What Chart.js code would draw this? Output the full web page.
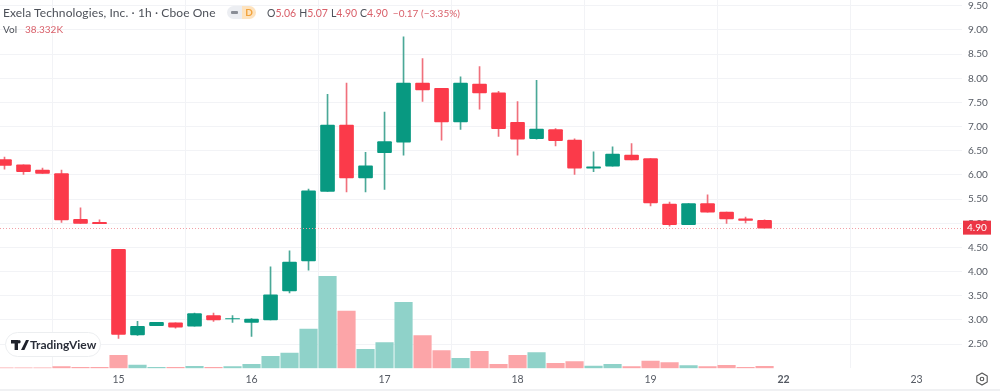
<!DOCTYPE html>
<html>
<head>
<meta charset="utf-8">
<title>Exela Technologies 1h</title>
<script src="https://cdn.jsdelivr.net/npm/chart.js@4"></script>
<style>
    html, body { margin: 0; padding: 0; background: #fff; }
    #wrap { position: relative; width: 1000px; height: 391px; overflow: hidden; font-family: Lato, sans-serif; }
    #chart { position: absolute; left: 0; top: 0; }
    .txt { position: absolute; white-space: nowrap; color: #4d5159; }
    .red { color: #d9606a; }
    #title { left: 3px; top: 4px; font-size: 12px; letter-spacing: 0.1px; line-height: 17px; }
    #ohlc { left: 267px; top: 5px; font-size: 10.5px; line-height: 16px; }
    #ohlc > span { margin-right: 3px; }
    #ohlc > span:last-child { font-size: 10px; margin-left: 2px; }
    #vol { left: 3px; top: 22px; font-size: 10px; line-height: 15px; }
    #vol .red { margin-left: 8px; }
    #pillL { position: absolute; left: 227px; top: 6px; width: 15px; height: 13px; background: #eceef2; border-radius: 7px 0 0 7px; }
    #pillL i { position: absolute; left: 4px; top: 5px; width: 7px; height: 3px; background: #8a8e96; border-radius: 1px; }
    #pillR { position: absolute; left: 242px; top: 6px; width: 14px; height: 13px; background: #fde3bf; border-radius: 0 7px 7px 0; color: #f2a33c; font-size: 10px; font-weight: 700; line-height: 13px; text-align: center; }
    #logo { position: absolute; left: 5px; top: 332px; width: 96px; height: 25px; background: #fff; border: 1px solid #eceef0; border-radius: 13px; box-sizing: border-box; }
    #logo svg { position: absolute; left: 5px; top: 7px; }
    #logo b { position: absolute; left: 24px; top: 3px; font-size: 12px; line-height: 17px; font-weight: 700; color: #2a2e39; }
    #gear { position: absolute; left: 975px; top: 372px; }
    #bottomLine { position: absolute; left: 0; top: 389px; width: 1000px; height: 2px; background: #f0f1f3; }
</style>
</head>
<body>
<div id="wrap">
    <canvas id="chart" width="1000" height="391"></canvas>
    <div class="txt" id="title">Exela Technologies, Inc. · 1h · Cboe One</div>
    <div id="pillL"><i></i></div>
    <div id="pillR">D</div>
    <div class="txt" id="ohlc"><span>O<span class="red">5.06</span></span><span>H<span class="red">5.07</span></span><span>L<span class="red">4.90</span></span><span>C<span class="red">4.90</span></span><span class="red">−0.17 (−3.35%)</span></div>
    <div class="txt" id="vol">Vol<span class="red">38.332K</span></div>
    <div id="logo">
        <svg width="18" height="10" viewBox="0 0 18 10"><path d="M0 0h7v10H3.6V3.4H0zM15 0h3l-4.6 10H10zM8 0a1.7 1.7 0 1 1 0 3.4A1.7 1.7 0 0 1 8 0z" fill="#1f222b"/></svg>
        <b>TradingView</b>
    </div>
    <svg id="gear" width="14" height="14" viewBox="0 0 14 14"><path d="M7 1l5.2 3v6L7 13l-5.2-3V4z" fill="none" stroke="#555" stroke-width="1.1" stroke-linejoin="round"/><circle cx="7" cy="7" r="1.8" fill="none" stroke="#555" stroke-width="1.1"/></svg>
    <div id="bottomLine"></div>
</div>
<script>
// --- Data ---
const opens = [6.32, 6.21, 6.10, 6.03, 5.08, 5.02, 4.46, 2.69, 2.88, 2.94, 2.87, 3.09, 3.02, 2.95, 3.00, 3.60, 4.22, 5.66, 7.03, 5.94, 6.46, 6.68, 7.90, 7.79, 7.10, 7.88, 7.70, 7.09, 6.75, 6.94, 6.72, 6.14, 6.18, 6.41, 6.34, 5.40, 4.97, 5.41, 5.23, 5.09, 5.06];
const highs = [6.37, 6.21, 6.14, 6.10, 5.32, 5.07, 4.46, 2.97, 2.95, 2.94, 3.14, 3.14, 3.09, 3.03, 4.10, 4.43, 5.71, 7.67, 7.90, 6.47, 7.30, 8.86, 8.41, 7.79, 8.03, 8.24, 7.73, 7.52, 7.96, 6.96, 6.75, 6.48, 6.58, 6.65, 6.34, 5.44, 5.41, 5.59, 5.23, 5.13, 5.07];
const lows = [6.12, 6.01, 6.03, 5.02, 5.00, 4.99, 2.62, 2.68, 2.88, 2.83, 2.87, 2.97, 2.95, 2.66, 3.00, 3.56, 4.03, 5.66, 5.65, 5.65, 5.70, 6.41, 7.52, 6.72, 6.94, 7.36, 6.80, 6.41, 6.74, 6.60, 6.01, 6.07, 6.18, 6.31, 5.36, 4.94, 4.97, 5.23, 5.00, 5.01, 4.90];
const closes = [6.20, 6.07, 6.03, 5.07, 5.00, 4.99, 2.70, 2.87, 2.95, 2.85, 3.13, 3.00, 3.03, 3.02, 3.52, 4.20, 5.67, 7.03, 5.94, 6.19, 6.69, 7.90, 7.76, 7.10, 7.90, 7.70, 6.96, 6.74, 6.95, 6.71, 6.14, 6.17, 6.43, 6.31, 5.42, 4.97, 5.41, 5.23, 5.09, 5.06, 4.90];
// volume in thousands
const volumes = [10, 10, 10, 32, 20, 20, 250, 63, 19, 19, 38, 19, 33, 77, 230, 294, 755, 1766, 1100, 365, 493, 1267, 628, 340, 192, 326, 77, 250, 301, 96, 128, 44, 77, 33, 140, 109, 52, 33, 58, 19, 38.332];

const dayLabels = ['15', '16', '17', '18', '19', '22', '23'];
const dayIndexes = [6, 13, 20, 27, 34, 41, 48];
const priceTickMin = 2.5;
const lastPrice = 4.90;

const upColor = '#089981';
const downColor = '#fb3a4a';
const upVolColor = '#8fd2c9';
const downVolColor = '#fca5a8';
const gridColor = '#f2f3f6';

const barIndex = opens.map((_, i) => i);
const isUp = i => closes[i] >= opens[i];

// current price line + red tag, drawn over the axis
const lastPricePlugin = {
    id: 'lastPrice',
    afterDraw(chart) {
        const c = chart.ctx;
        const y = chart.scales.y.getPixelForValue(lastPrice);
        const area = chart.chartArea;
        c.save();
        c.strokeStyle = '#f2a0a6';
        c.lineWidth = 1;
        c.setLineDash([1, 2]);
        c.beginPath();
        c.moveTo(area.left, Math.round(y) + 0.5);
        c.lineTo(area.right, Math.round(y) + 0.5);
        c.stroke();
        c.setLineDash([]);
        c.fillStyle = '#ec3645';
        c.fillRect(area.right + 1, y - 7.5, 28, 14);
        c.fillStyle = '#fff';
        c.font = '10px Lato, sans-serif';
        c.textAlign = 'left';
        c.textBaseline = 'middle';
        c.fillText(lastPrice.toFixed(2), area.right + 5, y);
        c.restore();
    }
};

new Chart(document.getElementById('chart').getContext('2d'), {
    type: 'bar',
    data: {
        datasets: [
            {
                label: 'Body',
                data: barIndex.map(i => ({ x: i, y: [opens[i], closes[i]] })),
                backgroundColor: barIndex.map(i => isUp(i) ? upColor : downColor),
                barThickness: 14,
                borderRadius: 1,
                borderSkipped: false,
                grouped: false,
                order: 1
            },
            {
                label: 'Wick',
                data: barIndex.map(i => ({ x: i, y: [lows[i], highs[i]] })),
                backgroundColor: barIndex.map(i => isUp(i) ? '#4aa897' : '#f0707c'),
                barThickness: 1,
                grouped: false,
                order: 2
            },
            {
                label: 'Volume',
                data: barIndex.map(i => ({ x: i, y: volumes[i] })),
                yAxisID: 'yVol',
                backgroundColor: barIndex.map(i => isUp(i) ? upVolColor : downVolColor),
                barThickness: 17.5,
                grouped: false,
                order: 3
            }
        ]
    },
    options: {
        responsive: false,
        animation: false,
        events: [],
        layout: { padding: 0 },
        plugins: { legend: { display: false }, tooltip: { enabled: false } },
        scales: {
            x: {
                type: 'linear',
                offset: false,
                min: -0.237,
                max: 50.39,
                grid: { color: gridColor, drawTicks: false },
                border: { display: false },
                afterBuildTicks(axis) {
                    axis.ticks = dayIndexes.map(v => ({ value: v }));
                },
                afterFit(axis) {
                    axis.height = 22.7;
                    axis.paddingLeft = 0;
                    axis.paddingRight = 0;
                },
                ticks: {
                    autoSkip: false,
                    maxRotation: 0,
                    padding: 5,
                    color: '#555a63',
                    font(ctx) {
                        const bold = ctx.tick && ctx.tick.value === 41;
                        return { family: 'Lato, sans-serif', size: 10.5, weight: bold ? '700' : '400' };
                    },
                    callback(value) { return dayLabels[dayIndexes.indexOf(value)]; }
                }
            },
            y: {
                position: 'right',
                min: 2,
                max: 9.62,
                grid: { color: gridColor, drawTicks: false },
                border: { display: false },
                afterBuildTicks(axis) {
                    axis.ticks = axis.ticks.filter(t => t.value >= priceTickMin);
                },
                afterFit(axis) {
                    axis.width = 38;
                    axis.paddingTop = 0;
                    axis.paddingBottom = 0;
                },
                ticks: {
                    stepSize: 0.5,
                    includeBounds: false,
                    padding: 6,
                    color: '#555a63',
                    font: { family: 'Lato, sans-serif', size: 10 },
                    callback(value) { return value.toFixed(2); }
                }
            },
            yVol: {
                display: false,
                min: 0,
                max: 7071
            }
        }
    },
    plugins: [lastPricePlugin]
});
</script>
</body>
</html>
